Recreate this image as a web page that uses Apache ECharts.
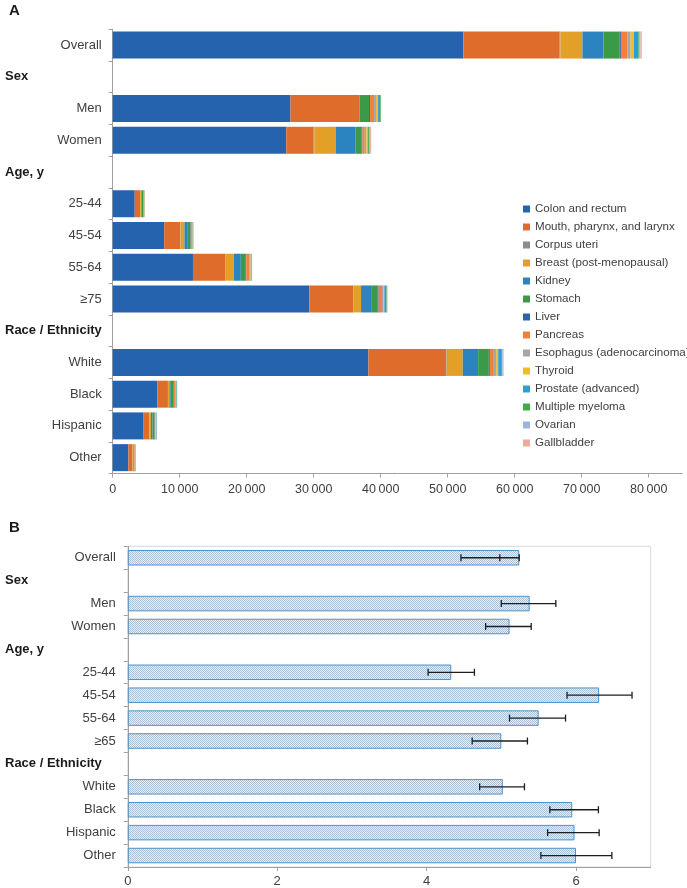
<!DOCTYPE html>
<html><head><meta charset="utf-8">
<script src="https://cdn.jsdelivr.net/npm/echarts@6/dist/echarts.min.js"></script>
<style>html,body{margin:0;padding:0;background:#fff}#c{width:687px;height:888px}</style>
</head><body><div id="c"></div>
<script>
// ---------- data ----------
const categoriesA = ['Overall','Sex','Men','Women','Age, y','25-44','45-54','55-64','≥75','Race / Ethnicity','White','Black','Hispanic','Other'];
const categoriesB = ['Overall','Sex','Men','Women','Age, y','25-44','45-54','55-64','≥65','Race / Ethnicity','White','Black','Hispanic','Other'];
const headerRows = ['Sex','Age, y','Race / Ethnicity'];

const cancerTypes = ['Colon and rectum','Mouth, pharynx, and larynx','Corpus uteri','Breast (post-menopausal)','Kidney','Stomach','Liver','Pancreas','Esophagus (adenocarcinoma)','Thyroid','Prostate (advanced)','Multiple myeloma','Ovarian','Gallbladder'];
const cancerColors = ['#2563ae','#e06c2b','#8c8c8c','#e3a027','#2b84bf','#3a9a48','#2f63ad','#f0803c','#a6a6a6','#f6b926','#2aa0d8','#45aa4a','#9db4dd','#f3a79e'];

const colon       = [52340, null, 26540, 25900, null, 3290, 7680, 11980, 29340, null, 38170, 6680, 4540, 2340];
const mouth       = [14330, null, 10330,  4090, null,  800, 2400,  4840,  6530, null, 11570, 1560,  900,  600];
const corpusUteri = [  150, null,     0,   100, null,   20,   30,    50,    50, null,   100,   20,   15,   10];
const breast      = [ 3290, null,     0,  3190, null,  150,  600,  1200,  1150, null,  2400,  200,  250,  100];
const kidney      = [ 3140, null,     0,  2990, null,   80,  500,  1050,  1500, null,  2300,  200,  230,   80];
const stomach     = [ 2400, null,  1390,   850, null,  250,  400,   750,  1000, null,  1600,  400,  310,   80];
const liver       = [  200, null,   150,   150, null,   20,   50,    60,   120, null,   150,   80,   40,   20];
const pancreas    = [ 1000, null,   600,   350, null,   40,  150,   500,   500, null,   600,  150,   80,   60];
const esophagus   = [  450, null,   300,   250, null,   20,   50,   100,   250, null,   350,   40,   40,   20];
const thyroid     = [  500, null,   300,   250, null,   60,   80,    80,   100, null,   300,   60,   60,   40];
const prostate    = [  660, null,   300,     0, null,    0,   50,   100,   250, null,   450,  120,   60,   40];
const myeloma     = [  150, null,   100,   150, null,   40,   30,    40,   100, null,   150,   60,   40,   30];
const ovarian     = [  150, null,     0,   150, null,   20,   20,    30,    60, null,   100,   30,   20,   20];
const gallbladder = [  200, null,     0,   150, null,   20,   20,    30,    80, null,   100,   30,   20,   20];
const cancerValues = [colon, mouth, corpusUteri, breast, kidney, stomach, liver, pancreas, esophagus, thyroid, prostate, myeloma, ovarian, gallbladder];

const percentValues = [5.24, null, 5.38, 5.11, null, 4.33, 6.31, 5.50, 5.00, null, 5.02, 5.95, 5.98, 6.00];
const errLow        = [4.46, null, 5.00, 4.79, null, 4.02, 5.88, 5.11, 4.61, null, 4.71, 5.65, 5.62, 5.53];
const errHigh       = [5.24, null, 5.73, 5.40, null, 4.64, 6.75, 5.86, 5.35, null, 5.31, 6.30, 6.31, 6.48];
const errMid        = [4.98, null, null, null, null, null, null, null, null, null, null, null, null, null];

const axisA = {min: 0, max: 85000, interval: 10000};
const axisB = {min: 0, max: 7, interval: 2};

// ---------- chart ----------
const FONT = 'Liberation Sans, Arial, sans-serif';
const chart = echarts.init(document.getElementById('c'), null, {renderer: 'canvas'});

const pat = document.createElement('canvas');
pat.width = 4; pat.height = 4;
const pc = pat.getContext('2d');
pc.fillStyle = '#e8eef5'; pc.fillRect(0, 0, 4, 4);
pc.fillStyle = '#a9c0d8';
for (let y = 0; y < 4; y++) for (let x = 0; x < 4; x++) if ((x + y) % 2 === 0) pc.fillRect(x, y, 1, 1);

const fmtNum = v => String(v).replace(/\B(?=(\d{3})+(?!\d))/g, '\u2009');
const isHeader = v => headerRows.indexOf(v) >= 0;

const gridA = {left: 112.7, top: 29.2, width: 569.5, height: 444.3};
const gridB = {left: 127.8, top: 546.3, width: 522.9, height: 320.9};

function catAxis(gridIndex, data, margin, header) {
  return {
    type: 'category', gridIndex, data, inverse: true, position: 'left',
    axisLine: {show: !header, lineStyle: {color: '#a0a0a0', width: 1}},
    axisTick: {show: !header, length: 4, lineStyle: {color: '#a0a0a0'}},
    axisLabel: header ? {
      align: 'left', margin, color: '#1a1a1a', fontFamily: FONT, fontSize: 13, fontWeight: 'bold',
      formatter: v => isHeader(v) ? v : ''
    } : {
      margin, color: '#404040', fontFamily: FONT, fontSize: 13,
      formatter: v => isHeader(v) ? '' : v
    },
    splitLine: {show: false}
  };
}

const errData = [];
percentValues.forEach((v, i) => {
  if (v != null) errData.push([i, errLow[i], errHigh[i], errMid[i] == null ? '-' : errMid[i]]);
});

const series = cancerTypes.map((name, k) => ({
  name, type: 'bar', stack: 'a', xAxisIndex: 0, yAxisIndex: 0,
  barWidth: 27, data: cancerValues[k],
  itemStyle: {color: cancerColors[k]}, emphasis: {disabled: true}
}));

series.push({
  name: 'pct', type: 'bar', xAxisIndex: 1, yAxisIndex: 2, barWidth: 15.5,
  data: percentValues,
  itemStyle: {color: {image: pat, repeat: 'repeat'}, borderColor: '#4f92c6', borderWidth: 1},
  emphasis: {disabled: true}
});

series.push({
  name: 'err', type: 'custom', xAxisIndex: 1, yAxisIndex: 2,
  data: errData, encode: {x: [1, 2], y: 0}, z: 10,
  renderItem: function (params, api) {
    const c = api.value(0);
    const lo = api.coord([api.value(1), c]);
    const hi = api.coord([api.value(2), c]);
    const mid = api.value(3);
    const h = 3.5;
    const st = {stroke: '#1e1e1e', lineWidth: 1.3};
    const ch = [
      {type: 'line', shape: {x1: lo[0], y1: lo[1], x2: hi[0], y2: hi[1]}, style: st},
      {type: 'line', shape: {x1: lo[0], y1: lo[1] - h, x2: lo[0], y2: lo[1] + h}, style: st},
      {type: 'line', shape: {x1: hi[0], y1: hi[1] - h, x2: hi[0], y2: hi[1] + h}, style: st}
    ];
    if (!isNaN(mid)) {
      const m = api.coord([mid, c]);
      ch.push({type: 'line', shape: {x1: m[0], y1: m[1] - h, x2: m[0], y2: m[1] + h}, style: st});
    }
    return {type: 'group', children: ch};
  }
});

chart.setOption({
  animation: false,
  backgroundColor: '#fff',
  textStyle: {fontFamily: FONT},
  grid: [
    Object.assign({containLabel: false}, gridA),
    Object.assign({containLabel: false, show: true, borderColor: '#dadada', borderWidth: 1}, gridB)
  ],
  xAxis: [
    {
      type: 'value', gridIndex: 0, min: axisA.min, max: axisA.max, interval: axisA.interval,
      axisLine: {show: true, lineStyle: {color: '#a0a0a0'}},
      axisTick: {show: true, length: 4, lineStyle: {color: '#a0a0a0'}},
      axisLabel: {margin: 10, color: '#404040', fontFamily: FONT, fontSize: 12.5, showMaxLabel: false, formatter: fmtNum},
      splitLine: {show: false}
    },
    {
      type: 'value', gridIndex: 1, min: axisB.min, max: axisB.max, interval: axisB.interval,
      axisLine: {show: true, lineStyle: {color: '#a0a0a0'}},
      axisTick: {show: true, length: 4, lineStyle: {color: '#a0a0a0'}},
      axisLabel: {margin: 8, color: '#404040', fontFamily: FONT, fontSize: 13, showMaxLabel: false},
      splitLine: {show: false}
    }
  ],
  yAxis: [
    catAxis(0, categoriesA, 11, false),
    catAxis(0, categoriesA, 107.7, true),
    catAxis(1, categoriesB, 12, false),
    catAxis(1, categoriesB, 122.8, true)
  ],
  legend: {
    data: cancerTypes, orient: 'vertical', left: 518, top: 195,
    itemWidth: 7, itemHeight: 7, itemGap: 0, icon: 'rect', selectedMode: false,
    textStyle: {color: '#404040', fontFamily: FONT, fontSize: 11.6, lineHeight: 18, height: 18}
  },
  graphic: [
    {type: 'text', left: 9, top: 3, style: {text: 'A', font: 'bold 15px ' + FONT, fill: '#1a1a1a'}},
    {type: 'text', left: 9, top: 520, style: {text: 'B', font: 'bold 15px ' + FONT, fill: '#1a1a1a'}}
  ],
  series
});
</script></body></html>
